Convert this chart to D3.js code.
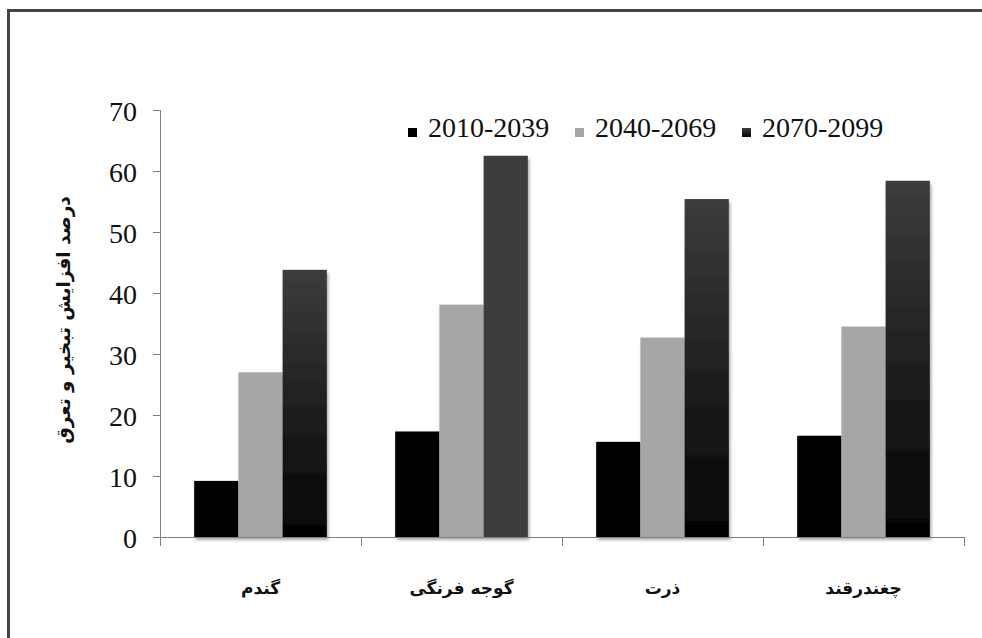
<!DOCTYPE html>
<html>
<head>
<meta charset="utf-8">
<script src="https://cdn.jsdelivr.net/npm/d3@7"></script>
<style>
  body{margin:0;background:#fff;}
  svg{display:block;}
</style>
</head>
<body>
<div class="chart"></div>
<script>
// data
var crops=['گندم','گوجه فرنگی','ذرت','چغندرقند'];
var periods=['2010-2039','2040-2069','2070-2099'];
var p2010=[9.2,17.3,15.6,16.6];
var p2040=[27.0,38.1,32.7,34.5];
var p2070=[43.8,62.5,55.4,58.4];
var yticks=[0,10,20,30,40,50,60,70];
var ytitle='درصد افزایش تبخیر و تعرق';

var width=982, height=638;
var plotleft=160, plotright=964, plottop=110, plotbottom=537;
var serif='"Liberation Serif","Times New Roman",serif';
var farsi='"DejaVu Sans",sans-serif';
var axisgray='#7f7f7f';

var series=[p2010,p2040,p2070];
var rows=[];
crops.forEach(function(c,i){
  periods.forEach(function(p,j){
    rows.push({crop:c,period:p,value:series[j][i]});
  });
});

var svg=d3.select('.chart').append('svg').attr('width',width).attr('height',height);

var defs=svg.append('defs');
var grad=defs.append('linearGradient').attr('id','darkgrad')
  .attr('x1',0).attr('y1',0).attr('x2',0).attr('y2',1);
grad.append('stop').attr('offset','0%').attr('stop-color','#3c3c3c');
grad.append('stop').attr('offset','100%').attr('stop-color','#040404');

var shadow=defs.append('filter').attr('id','shadow')
  .attr('x','-10%').attr('y','-10%').attr('width','130%').attr('height','130%');
shadow.append('feDropShadow').attr('dx',1.5).attr('dy',3).attr('stdDeviation',1.8)
  .attr('flood-color','#000').attr('flood-opacity',0.35);

// outer frame
svg.append('rect').attr('x',8.5).attr('y',10.5).attr('width',1000).attr('height',700)
  .attr('fill','none').attr('stroke','#444').attr('stroke-width',3);

var x0=d3.scaleBand().domain(crops).range([plotleft,plotright]).paddingInner(0.34).paddingOuter(0.17);
var x1=d3.scaleBand().domain(periods).range([0,x0.bandwidth()]);
var y=d3.scaleLinear().domain([0,70]).range([plotbottom,plottop]);

var fills={'2010-2039':'#000','2040-2069':'#a6a6a6','2070-2099':'url(#darkgrad)'};
var flatdark=['گوجه فرنگی']; // this group's dark bar has no gradient in the original

function barfill(d){
  if(d.period=='2070-2099' && flatdark.indexOf(d.crop)>=0) return '#3d3d3d';
  return fills[d.period];
}

// bars
var groups=svg.append('g').attr('class','bars').selectAll('g')
  .data(crops).enter().append('g')
  .attr('transform',function(c){return 'translate('+x0(c)+',0)'})
  .attr('filter','url(#shadow)');

groups.selectAll('rect')
  .data(function(c){return rows.filter(function(r){return r.crop==c})})
  .enter().append('rect')
  .attr('x',function(d){return x1(d.period)})
  .attr('y',function(d){return y(d.value)})
  .attr('width',x1.bandwidth())
  .attr('height',function(d){return y(0)-y(d.value)})
  .attr('fill',barfill);

// y axis
var yaxis=svg.append('g').attr('transform','translate('+plotleft+',0)')
  .call(d3.axisLeft(y).tickValues(yticks).tickSize(7).tickPadding(16));
yaxis.selectAll('path,line').attr('stroke',axisgray);
yaxis.select('.domain').attr('d','M0.5,'+plottop+'V'+(plotbottom+9));
yaxis.selectAll('text').style('font-family',serif).style('font-size','28px').attr('fill','#111').attr('dy','0.36em');

// x axis line and band boundary ticks
var step=x0.step(), halfgap=step*x0.paddingInner()/2;
var bounds=crops.map(function(c){return x0(c)-halfgap});
bounds.push(plotright);
var xaxis=svg.append('g').attr('class','xaxis');
xaxis.append('line').attr('x1',plotleft).attr('x2',plotright).attr('y1',plotbottom+0.5).attr('y2',plotbottom+0.5)
  .attr('stroke',axisgray);
xaxis.selectAll('.btick').data(bounds.slice(1)).enter().append('line')
  .attr('x1',function(d){return d+0.5}).attr('x2',function(d){return d+0.5})
  .attr('y1',plotbottom).attr('y2',plotbottom+9).attr('stroke',axisgray);

xaxis.selectAll('.lbl').data(crops).enter().append('text')
  .attr('x',function(c){return x0(c)+x0.bandwidth()/2})
  .attr('y',594)
  .attr('text-anchor','middle')
  .attr('direction','rtl')
  .style('font-family',farsi).style('font-size','17px').style('font-weight','bold')
  .attr('fill','#111')
  .text(function(c){return c});

// y title
svg.append('text')
  .attr('transform','translate(70,320) rotate(-90)')
  .attr('text-anchor','middle')
  .attr('direction','rtl')
  .style('font-family',farsi).style('font-size','18.5px').style('font-weight','bold')
  .attr('fill','#111')
  .text(ytitle);

// legend
var legendx=[408,575,742];
var legend=svg.append('g').selectAll('g').data(periods).enter().append('g')
  .attr('transform',function(d,i){return 'translate('+legendx[i]+',128)'});
legend.append('rect').attr('width',9).attr('height',9)
  .attr('fill',function(d){return fills[d]});
legend.append('text').attr('x',20).attr('y',9)
  .style('font-family',serif).style('font-size','28px').attr('fill','#111')
  .text(function(d){return d});
</script>
</body>
</html>
